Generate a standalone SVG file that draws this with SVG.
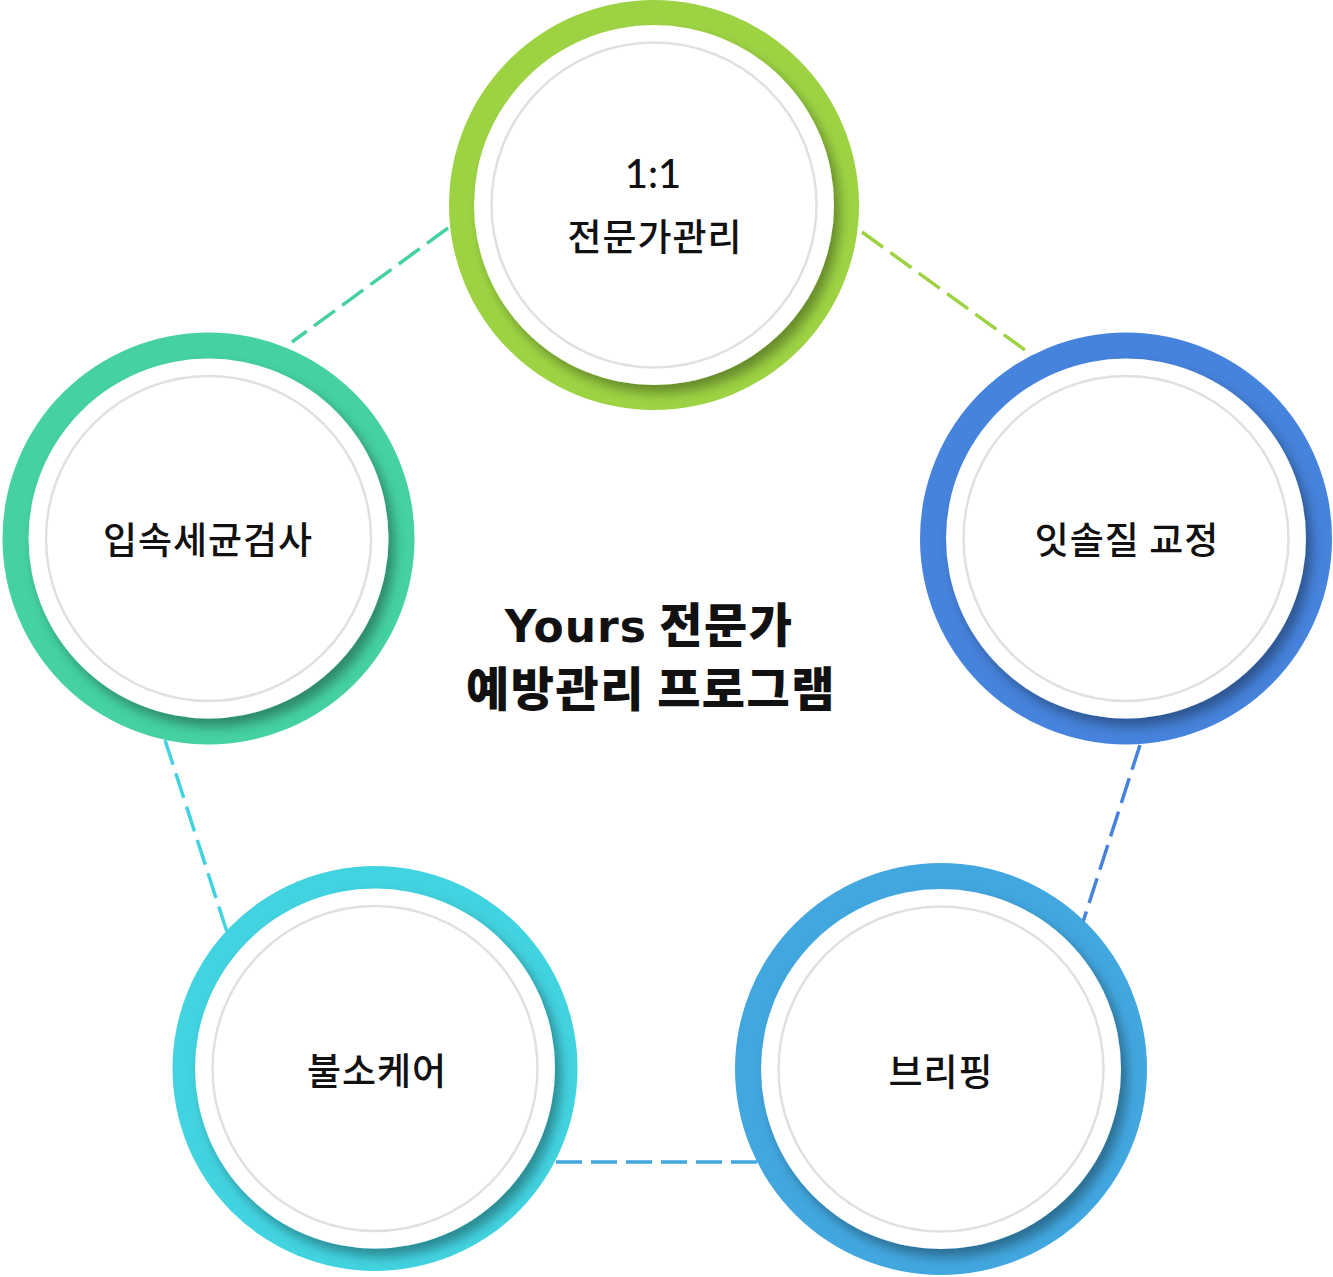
<svg xmlns="http://www.w3.org/2000/svg" width="1333" height="1277" viewBox="0 0 1333 1277">
<style>
.inner{fill:#fff;filter:url(#sh)}
.gray{fill:none;stroke:#e0e0e0;stroke-width:2.5}
.lbl{font-family:"Noto Sans CJK KR","Noto Sans",sans-serif;font-size:37px;font-weight:500;fill:#111;text-anchor:middle;letter-spacing:1px}
.num{font-family:Lato,"Open Sans",sans-serif;font-size:40px;font-weight:500;letter-spacing:0}
.ttl{font-family:"Noto Sans CJK KR","Noto Sans",sans-serif;font-size:47px;font-weight:800;fill:#111;text-anchor:middle;letter-spacing:1.5px}
.lat{font-family:"DejaVu Sans","Noto Sans",sans-serif;font-weight:700;font-size:44px;letter-spacing:1px}
.con line{stroke-width:3.5;stroke-dasharray:26 9;fill:none}
</style>
<defs>
<filter id="sh" x="-20%" y="-20%" width="140%" height="140%">
<feDropShadow dx="6" dy="8" stdDeviation="6" flood-color="#000" flood-opacity="0.35"/>
</filter>
</defs>
<rect width="1333" height="1277" fill="#fff"/>
<g id="connectors" class="con">
<line x1="448" y1="228" x2="292" y2="342" stroke="#45d1a0"/>
<line x1="862" y1="232" x2="1025" y2="350" stroke="#9dd343"/>
<line x1="1140" y1="745" x2="1083" y2="922" stroke="#4683dc"/>
<line x1="757" y1="1162" x2="555" y2="1162" stroke="#42a7df"/>
<line x1="165" y1="740" x2="227" y2="932" stroke="#42d3e0"/>
</g>
<g id="node-top">
<circle cx="654" cy="205" r="205" fill="#9dd343"/>
<circle class="inner" cx="654" cy="205" r="180"/>
<circle class="gray" cx="654" cy="205" r="162.5"/>
<text class="lbl num" x="653" y="188">1:1</text>
<text class="lbl" x="655" y="251">전문가관리</text>
</g>
<g id="node-left">
<circle cx="208.5" cy="538.5" r="206" fill="#45d1a0"/>
<circle class="inner" cx="208.5" cy="538.5" r="180"/>
<circle class="gray" cx="208.5" cy="538.5" r="162.5"/>
<text class="lbl" x="208" y="554">입속세균검사</text>
</g>
<g id="node-right">
<circle cx="1126" cy="538.5" r="206" fill="#4683dc"/>
<circle class="inner" cx="1126" cy="538.5" r="180"/>
<circle class="gray" cx="1126" cy="538.5" r="162.5"/>
<text class="lbl" x="1127" y="554">잇솔질 교정</text>
</g>
<g id="node-bottom-left">
<circle cx="375" cy="1068.5" r="202.5" fill="#42d3e0"/>
<circle class="inner" cx="375" cy="1068.5" r="180"/>
<circle class="gray" cx="375" cy="1068.5" r="162.5"/>
<text class="lbl" x="377" y="1085">불소케어</text>
</g>
<g id="node-bottom-right">
<circle cx="941" cy="1069" r="206" fill="#42a7df"/>
<circle class="inner" cx="941" cy="1069" r="180"/>
<circle class="gray" cx="941" cy="1069" r="162.5"/>
<text class="lbl" x="941" y="1086">브리핑</text>
</g>
<g id="title">
<text class="ttl" x="649" y="642"><tspan class="lat">Yours</tspan> 전문가</text>
<text class="ttl" x="651" y="706">예방관리 프로그램</text>
</g>
</svg>
